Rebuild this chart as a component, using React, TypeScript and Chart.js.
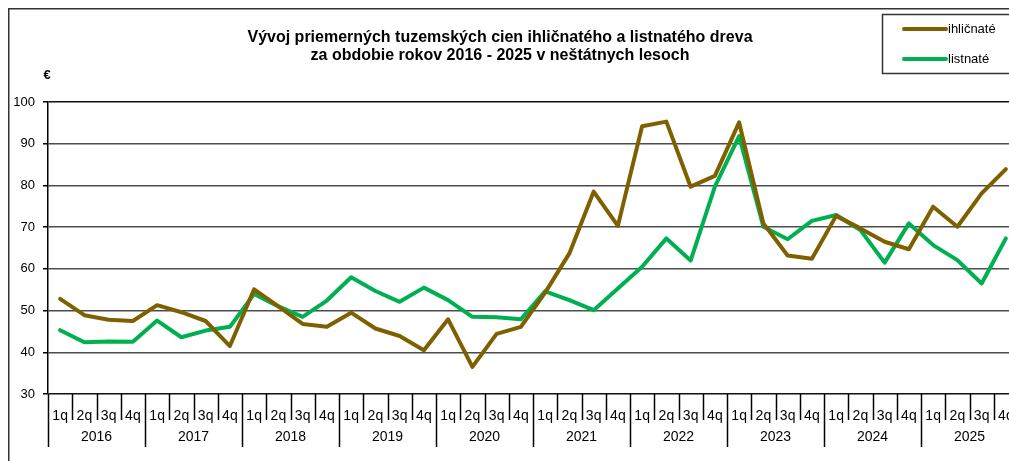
import React, { useEffect, useRef } from "react";
import { Chart, registerables } from "chart.js";

Chart.register(...registerables);

const titleLines = [
  "Vývoj priemerných tuzemských cien ihličnatého a listnatého dreva",
  "za obdobie rokov 2016 - 2025 v neštátnych lesoch",
];
const unitLabel = "€";
const years = ["2016", "2017", "2018", "2019", "2020", "2021", "2022", "2023", "2024", "2025"];
const quarters = ["1q", "2q", "3q", "4q"];
const yTicks = [30, 40, 50, 60, 70, 80, 90, 100];

const ihlicnate = [
  52.8, 48.9, 47.8, 47.5, 51.3, 49.6, 47.5, 41.5, 55.1, 51.0,
  46.8, 46.1, 49.5, 45.7, 43.9, 40.5, 47.9, 36.5, 44.4, 46.1,
  54.3, 63.7, 78.5, 70.3, 94.2, 95.3, 79.7, 82.3, 95.1, 70.9,
  63.2, 62.4, 72.7, 69.7, 66.5, 64.7, 74.9, 70.1, 78.1, 83.9,
];
const listnate = [
  45.3, 42.4, 42.6, 42.5, 47.6, 43.6, 45.2, 46.1, 54.0, 51.0,
  48.5, 52.4, 58.0, 54.7, 52.1, 55.5, 52.5, 48.5, 48.4, 47.9,
  54.6, 52.5, 50.1, 55.3, 60.5, 67.3, 62.0, 79.7, 91.8, 70.1,
  67.1, 71.5, 72.9, 69.3, 61.5, 70.9, 65.7, 62.1, 56.5, 67.3,
];

const seriesNames = ["ihličnaté", "listnaté"];
const seriesColors = ["#7f6000", "#00b050"];

const FONT = "'Liberation Sans', Arial, sans-serif";
const W = 1030;
const H = 470;

export default function App() {
  const ref = useRef<HTMLCanvasElement | null>(null);

  useEffect(() => {
    if (!ref.current) return;
    const labels: string[] = [];
    years.forEach(() => quarters.forEach((q) => labels.push(q)));

    const decor = {
      id: "decor",
      afterDraw(chart: any) {
        const ctx = chart.ctx as CanvasRenderingContext2D;
        const xs = chart.scales.x;
        const area = chart.chartArea;
        ctx.save();
        // outer frame
        ctx.strokeStyle = "#333";
        ctx.lineWidth = 1.5;
        ctx.strokeRect(0.75, 0.75, W - 1.5, H - 1.5);
        // title
        ctx.fillStyle = "#000";
        ctx.font = `bold 16px ${FONT}`;
        ctx.textAlign = "center";
        ctx.textBaseline = "middle";
        ctx.fillText(titleLines[0], 492, 30);
        ctx.fillText(titleLines[1], 492, 48);
        // unit
        ctx.font = `bold 13px ${FONT}`;
        ctx.fillText(unitLabel, 39, 67);
        // x dividers
        const half = (xs.getPixelForValue(1) - xs.getPixelForValue(0)) / 2;
        ctx.strokeStyle = "#000";
        ctx.lineWidth = 1.5;
        for (let i = 0; i <= labels.length; i++) {
          const x = Math.round(xs.getPixelForValue(i) - half) + 0.5;
          const isYear = i % quarters.length === 0;
          ctx.beginPath();
          ctx.moveTo(x, area.bottom);
          ctx.lineTo(x, area.bottom + (isYear ? 53 : 26));
          ctx.stroke();
        }
        // year labels
        ctx.font = `14px ${FONT}`;
        ctx.fillStyle = "#000";
        years.forEach((y, yi) => {
          const a = xs.getPixelForValue(yi * 4) - half;
          const b = xs.getPixelForValue(yi * 4 + 3) + half;
          ctx.fillText(y, (a + b) / 2, area.bottom + 43);
        });
        // legend box
        ctx.strokeStyle = "#333";
        ctx.lineWidth = 1.5;
        ctx.strokeRect(874.5, 6.5, 150, 59);
        seriesNames.forEach((n, i) => {
          const ly = 21 + i * 30;
          ctx.strokeStyle = seriesColors[i];
          ctx.lineWidth = 4;
          ctx.lineCap = "round";
          ctx.beginPath();
          ctx.moveTo(896, ly);
          ctx.lineTo(938, ly);
          ctx.stroke();
          ctx.fillStyle = "#000";
          ctx.font = `13px ${FONT}`;
          ctx.textAlign = "left";
          ctx.fillText(n, 940, ly);
        });
        ctx.restore();
      },
    };

    const chart = new Chart(ref.current, {
      type: "line",
      data: {
        labels,
        datasets: [
          {
            label: seriesNames[0],
            data: ihlicnate,
            borderColor: seriesColors[0],
            backgroundColor: seriesColors[0],
            borderWidth: 4,
            pointRadius: 0,
            tension: 0,
            borderJoinStyle: "round",
            borderCapStyle: "round",
          },
          {
            label: seriesNames[1],
            data: listnate,
            borderColor: seriesColors[1],
            backgroundColor: seriesColors[1],
            borderWidth: 4,
            pointRadius: 0,
            tension: 0,
            borderJoinStyle: "round",
            borderCapStyle: "round",
          },
        ],
      },
      options: {
        responsive: false,
        animation: false,
        layout: { padding: { top: 94, right: 20, bottom: 0, left: 0 } },
        plugins: {
          legend: { display: false },
          title: { display: false },
          tooltip: { enabled: false },
        },
        scales: {
          x: {
            type: "category",
            offset: true,
            grid: { display: false, offset: true },
            border: { display: false },
            ticks: {
              color: "#000",
              font: { family: FONT, size: 14 },
              maxRotation: 0,
              autoSkip: false,
              padding: 6,
            },
            afterFit(scale: any) {
              scale.height = 84;
            },
          },
          y: {
            min: 30,
            max: 100,
            afterBuildTicks(scale: any) {
              scale.ticks = yTicks.map((v) => ({ value: v }));
            },
            grid: {
              color: (c: any) =>
                c.tick && (c.tick.value === 30 || c.tick.value === 100) ? "#111" : "#4d4d4d",
              tickColor: "#000",
              lineWidth: 1.5,
              tickLength: 5,
              drawTicks: true,
            },
            border: { display: true, color: "#000", width: 1.5 },
            ticks: {
              color: "#000",
              font: { family: FONT, size: 13 },
              padding: 8,
            },
            afterFit(scale: any) {
              scale.width = 40;
            },
          },
        },
      },
      plugins: [decor],
    });
    return () => chart.destroy();
  }, []);

  return (
    <div
      style={{
        position: "fixed",
        left: 0,
        top: 0,
        width: 1009,
        height: 461,
        overflow: "hidden",
        background: "#fff",
      }}
    >
      <canvas
        ref={ref}
        width={W}
        height={H}
        style={{ display: "block", position: "absolute", left: 8, top: 8, width: W, height: H }}
      />
    </div>
  );
}
